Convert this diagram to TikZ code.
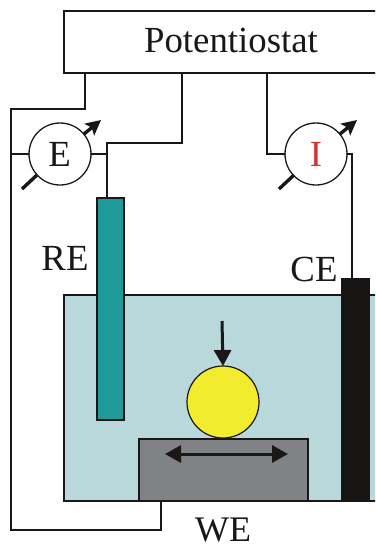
\documentclass[tikz,border=0pt]{standalone}
\usepackage{fontspec}
\setmainfont{Liberation Serif}
\usetikzlibrary{arrows.meta}
\definecolor{cellblue}{HTML}{B9D8DB}
\definecolor{teal2}{HTML}{1F9A98}
\definecolor{gray2}{HTML}{7F8386}
\definecolor{yellow2}{HTML}{F2EC2E}
\definecolor{ink}{HTML}{1A1716}
\definecolor{red2}{HTML}{D5322C}
\tikzset{
  wire/.style={draw=ink,line width=1.7pt,line join=miter,line cap=round},
  meter/.style={circle,draw=ink,line width=1.3pt,minimum size=62pt,inner sep=0pt,outer sep=0pt,fill=white},
  lbl/.style={inner sep=0pt,anchor=base,font=\fontsize{36.8}{37}\selectfont,text=ink},
  needle/.style={draw=ink,line width=3.4pt},
  needlehead/.style={draw=ink,line width=3.4pt,-{Stealth[length=15pt,width=15pt,inset=3pt]}},
  bigarrow/.style={draw=ink,line width=3pt}
}
\begin{document}
\begin{tikzpicture}[x=1pt,y=-1pt]
\useasboundingbox (0,0) rectangle (375,546);
\clip (0,0) rectangle (375,546);
% boxes
\path[fill=white,draw=ink,line width=1.7pt] (64,11) rectangle (385,73);
\node[lbl] (pot) at (231,52) {Potentiostat};
\path[fill=cellblue,draw=ink,line width=1.7pt] (64,295) rectangle (385,501);
\coordinate (potA) at (85,73);
\coordinate (potB) at (182,73);
\coordinate (potC) at (267,73);
% components
\node[meter] (E) at (60,154) {};
\node[meter] (I) at (316,154) {};
\node[lbl] (Etxt) at (59.5,166) {E};
\node[lbl,text=red2] (Itxt) at (316,166) {I};
\node[draw=ink,line width=1.5pt,fill=teal2,minimum width=27pt,minimum height=222pt,inner sep=0pt,outer sep=0pt] (RE) at (110.5,309) {};
\node[draw=ink,line width=1pt,fill=ink!90!black,minimum width=28pt,minimum height=223pt,inner sep=0pt,outer sep=0pt] (CE) at (355,389.5) {};
\node[draw=ink,line width=1.5pt,fill=gray2,minimum width=169pt,minimum height=62pt,inner sep=0pt,outer sep=0pt] (WE) at (223.5,470) {};
\node[circle,draw=ink,line width=1.2pt,fill=yellow2,minimum size=72pt,inner sep=0pt,outer sep=0pt] (ball) at (223,402) {};
\coordinate (reTop) at (107,198);
\coordinate (ceTop) at (352,278);
\coordinate (weBot) at (161,501);
% wires
\draw[wire] (potA) |- (11,109) -- (11,530) -| (weBot);
\draw[wire] (11,154) -- (E.west);
\draw[wire] (potB) |- (107,143) -- (reTop);
\draw[wire] (E.east) -- (107,154);
\draw[wire] (potC) |- (I.west);
\draw[wire] (I.east) -| (ceTop);
% meter needles
\coordinate (n1a) at (22,189);
\coordinate (n1b) at (101,120);
\coordinate (n2a) at (279,189);
\coordinate (n2b) at (357,120);
\draw[needle] (n1a) -- (37,175);
\draw[needlehead] (84,134) -- (n1b);
\draw[needle] (n2a) -- (294,175);
\draw[needlehead] (340,134) -- (n2b);
% force and motion
\coordinate (fTop) at (222,321);
\draw[bigarrow,-{Triangle[length=16pt,width=17pt]}] (fTop) -- (ball.north);
\coordinate (mL) at (165,454);
\coordinate (mR) at (288,454);
\draw[bigarrow,{Triangle[length=16pt,width=17pt]}-{Triangle[length=16pt,width=17pt]}] (mL) -- (mR);
% labels
\node[lbl] (lRE) at (65,270) {RE};
\node[lbl] (lCE) at (314,281) {CE};
\node[lbl,font=\fontsize{36}{36}\selectfont] (lWE) at (223,541) {WE};
\end{tikzpicture}
\end{document}
